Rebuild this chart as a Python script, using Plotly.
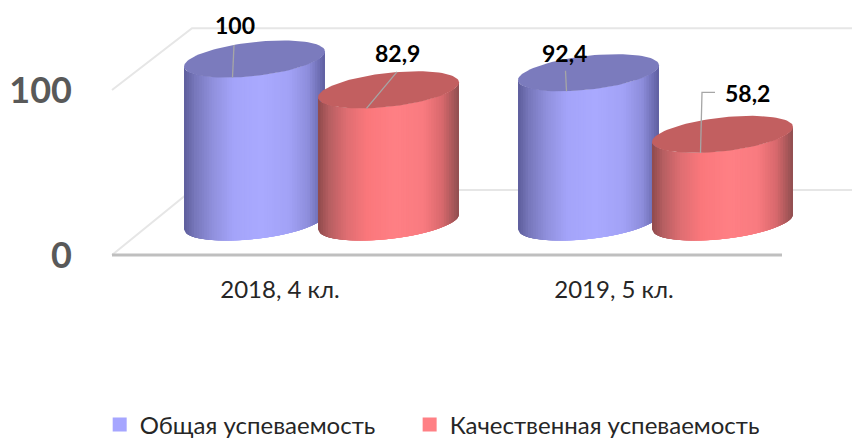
import numpy as np
import plotly.graph_objects as go

categories = ["2018, 4 кл.", "2019, 5 кл."]
series_names = ["Общая успеваемость", "Качественная успеваемость"]
obshaya = [100, 92.4]
kachestvennaya = [82.9, 58.2]
label_text = {0: ["100", "92,4"], 1: ["82,9", "58,2"]}

FONT = "Lato, 'Open Sans', sans-serif"
W, H = 852, 438
ML, MB = 80, 176
PLOT_BOTTOM = H - MB
X0_PX, X_UNIT = 321.5, 334.0      # category 0 centre, px per category
FRONT_ZERO, FRONT_SCALE = 255.0, 1.65   # front plane axis
BACK_ZERO, BACK_SCALE = 239.4, 1.804    # plane of the cylinders
FLOOR_VALUE = 9.65                # cylinder base on the cylinder axis
HALF_W, SHEAR, CAP_B = 70.5, 7.5, 17.0
OFFSET = 67.0
DEPTH_X = 41.5 / X_UNIT


def xu(px):
    return (px - X0_PX) / X_UNIT


def yback(px):
    return (BACK_ZERO - px) / BACK_SCALE


def ypx(v):
    return BACK_ZERO - BACK_SCALE * v


def mix(stops, t):
    ts = [s[0] for s in stops]
    return "rgb(%d,%d,%d)" % tuple(
        np.interp(t, ts, [s[1][c] for s in stops]) for c in range(3))


BLUE_STOPS = [(0, (94, 94, 156)), (.08, (120, 120, 188)), (.2, (144, 144, 220)),
              (.35, (164, 164, 250)), (.55, (170, 170, 255)), (.75, (162, 162, 246)),
              (.88, (142, 142, 220)), (1, (95, 95, 160))]
RED_STOPS = [(0, (143, 74, 76)), (.08, (183, 95, 98)), (.2, (222, 110, 114)),
             (.35, (251, 120, 124)), (.55, (255, 128, 133)), (.75, (249, 123, 128)),
             (.88, (217, 105, 109)), (1, (143, 79, 80))]
CAP = ["#7b7bbd", "#c25f60"]
LEGEND = ["#a6a6ff", "#ff8085"]
LEADER = "#a6a6a6"

fig = go.Figure()


def wall(xs, ys, color, width):
    fig.add_trace(go.Scatter(x=xs, y=ys, mode="lines", yaxis="y",
                             line=dict(color=color, width=width),
                             hoverinfo="skip", showlegend=False))


FL, BL, RB, RF = xu(112), xu(192), xu(852), xu(782)
BACK_RISE = 65 / FRONT_SCALE
wall([FL, BL, RB], [100, 100 + 0.95 * BACK_RISE, 100 + 0.95 * BACK_RISE], "#e6e6e6", 2)
wall([FL, BL, RB], [0, BACK_RISE, BACK_RISE], "#e6e6e6", 2)
wall([FL, RF], [0, 0], "#bfbfbf", 3)


def cylinder(cx_px, value, stops, cap_color):
    top = ypx(value)
    bottom = ypx(FLOOR_VALUE)
    n = 56
    edges = np.linspace(-1, 1, n + 1)

    def lower(u, cy):
        return cy - SHEAR * u + CAP_B * np.sqrt(np.clip(1 - u * u, 0, 1))

    for i in range(n):
        us = np.linspace(edges[i], min(edges[i] + 4 * 2 / n, 1), 6)
        xp = cx_px + HALF_W * us
        xs = list(xp) + list(xp[::-1])
        ys = list(lower(us, bottom)) + list(lower(us[::-1], top))
        fig.add_trace(go.Scatter(x=[xu(a) for a in xs], y=[yback(b) for b in ys],
                                 yaxis="y2", mode="lines", fill="toself",
                                 fillcolor=mix(stops, (i + .5) / n),
                                 line=dict(width=0), hoverinfo="skip", showlegend=False))
    t = np.linspace(0, 2 * np.pi, 90)
    xp = cx_px + HALF_W * np.cos(t)
    yp = top - SHEAR * np.cos(t) + CAP_B * np.sin(t)
    fig.add_trace(go.Scatter(x=xu(xp), y=yback(yp), yaxis="y2", mode="lines", fill="toself",
                             fillcolor=cap_color, line=dict(width=0),
                             hoverinfo="skip", showlegend=False))


# px offsets from each cap centre: label centre, leader polyline
label_off = {(0, 0): (-19.5, -34), (1, 0): (8.5, -37), (0, 1): (-24, -20), (1, 1): (24.5, -41)}
leader_off = {(0, 0): [(-20.5, -14)], (1, 0): [(8.5, -18)], (0, 1): [(-23, -2)],
              (1, 1): [(-7.5, -42), (-20.5, -42)]}

annotations = []
all_values = [obshaya, kachestvennaya]
for c in range(len(categories)):
    for s, values in enumerate(all_values):
        cx = X0_PX + X_UNIT * c + (-OFFSET if s == 0 else OFFSET)
        cylinder(cx, values[c], [BLUE_STOPS, RED_STOPS][s], CAP[s])

for c in range(len(categories)):
    for s, values in enumerate(all_values):
        cx = X0_PX + X_UNIT * c + (-OFFSET if s == 0 else OFFSET)
        top = ypx(values[c])
        pts = [(cx + a, top + b) for a, b in leader_off[(s, c)]]
        u = -22 / HALF_W
        pts.append((cx - 22, top - SHEAR * u + CAP_B * np.sqrt(1 - u * u)))
        fig.add_trace(go.Scatter(x=[xu(p[0]) for p in pts], y=[yback(p[1]) for p in pts],
                                 yaxis="y2", mode="lines",
                                 line=dict(color=LEADER, width=1.3),
                                 hoverinfo="skip", showlegend=False))
        lx, ly = label_off[(s, c)]
        annotations.append(dict(x=xu(cx + lx), y=yback(top + ly), xref="x", yref="y2",
                                text="<b>%s</b>" % label_text[s][c], showarrow=False,
                                font=dict(family=FONT, size=23, color="#000000")))

legend_refs = ["legend", "legend2"]
for s, name in enumerate(series_names):
    fig.add_trace(go.Scatter(x=[None], y=[None], mode="markers", name=name, legend=legend_refs[s],
                             marker=dict(symbol="square", size=16, color=LEGEND[s],
                                         line=dict(color=LEGEND[s], width=3))))

legend_common = dict(orientation="h", xref="container", yref="container", xanchor="left",
                     y=1 - 425 / H, yanchor="middle",
                     font=dict(family=FONT, size=24, color="#262626"), itemsizing="constant",
                     bgcolor="rgba(0,0,0,0)")
xr = [xu(ML), xu(W)]
fig.update_layout(
    width=W, height=H, autosize=False,
    margin=dict(l=ML, r=0, t=0, b=MB),
    paper_bgcolor="white", plot_bgcolor="white",
    font=dict(family=FONT),
    annotations=annotations,
    xaxis=dict(range=xr, showgrid=False, zeroline=False, showline=False, ticks="",
               tickvals=[i - DEPTH_X for i in range(len(categories))], ticktext=categories,
               ticklabelstandoff=11, tickfont=dict(family=FONT, size=24, color="#262626")),
    yaxis=dict(range=[(FRONT_ZERO - PLOT_BOTTOM) / FRONT_SCALE, FRONT_ZERO / FRONT_SCALE],
               tickvals=[0, 100], ticktext=["<b>0</b>", "<b>100</b>"],
               showgrid=False, zeroline=False, showline=False, ticks="",
               ticklabelstandoff=7, tickfont=dict(family=FONT, size=36, color="#595959")),
    yaxis2=dict(range=[yback(PLOT_BOTTOM), yback(0)], overlaying="y", side="left",
                visible=False),
    legend=dict(x=0.117, **legend_common),
    legend2=dict(x=0.4808, **legend_common),
)

fig.write_html("out.html", post_script="document.body.style.margin='0';",
               config={"displayModeBar": False})
